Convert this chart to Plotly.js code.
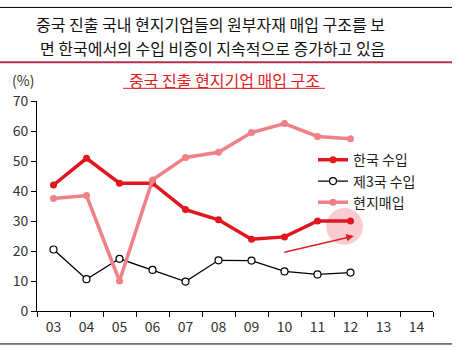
<!DOCTYPE html>
<html><head><meta charset="utf-8">
<script src="https://cdn.plot.ly/plotly-3.0.1.min.js"></script>
<style>html,body{margin:0;padding:0;background:#fff;}#chart{width:461px;height:347px;}</style>
</head><body><div id="chart"></div>
<script>
var categories = ['03','04','05','06','07','08','09','10','11','12','13','14'];
var dataYears = ['03','04','05','06','07','08','09','10','11','12'];
var koreaImport = [42.0, 50.9, 42.6, 42.6, 33.8, 30.4, 23.9, 24.7, 30.0, 30.0];
var thirdImport = [20.5, 10.6, 17.4, 13.7, 9.8, 16.9, 16.8, 13.2, 12.2, 12.8];
var localPurchase = [37.5, 38.5, 10.0, 43.7, 51.2, 52.9, 59.5, 62.5, 58.2, 57.4];
var seriesNames = ['한국 수입', '제3국 수입', '현지매입'];

var FONT = '"Noto Sans CJK KR", "Noto Sans", sans-serif';
var L = 37, R = 28, T = 100.7, B = 36, W = 461, H = 347;
var pw = W - L - R, ph = H - T - B;
function px(x){ return (x - L) / pw; }
function py(y){ return (H - B - y) / ph; }

var traces = [
  {x: dataYears, y: koreaImport, name: seriesNames[0], type: 'scatter', mode: 'lines+markers',
   line: {color: '#e2161e', width: 3.5}, marker: {color: '#e2161e', size: 7}},
  {x: dataYears, y: thirdImport, name: seriesNames[1], type: 'scatter', mode: 'lines+markers',
   line: {color: '#000000', width: 1.3}, marker: {color: '#ffffff', size: 7, line: {color: '#000000', width: 1.2}}},
  {x: dataYears, y: localPurchase, name: seriesNames[2], type: 'scatter', mode: 'lines+markers',
   line: {color: '#f08088', width: 3.5}, marker: {color: '#f08088', size: 7}}
];

var layout = {
  width: W, height: H,
  margin: {l: L, r: R, t: T, b: B, pad: 0},
  paper_bgcolor: '#ffffff', plot_bgcolor: '#ffffff',
  font: {family: FONT, color: '#222', size: 13},
  showlegend: true,
  legend: {x: px(313), y: py(144), xanchor: 'left', yanchor: 'top', bgcolor: 'rgba(0,0,0,0)',
           font: {family: FONT, size: 14, color: '#222'}, tracegroupgap: 0, itemwidth: 30},
  xaxis: {type: 'category', categoryorder: 'array', categoryarray: categories,
          range: [-0.5, 11.5], tickson: 'boundaries', ticks: 'outside', ticklen: 5,
          tickcolor: '#000', showline: true, linecolor: '#000', linewidth: 1, ticklabelstandoff: 3,
          showgrid: false, zeroline: false, tickfont: {family: FONT, size: 14, color: '#333'}, fixedrange: true},
  yaxis: {range: [0, 70], dtick: 10, ticks: 'outside', ticklen: 5, tickcolor: '#000',
          showline: true, linecolor: '#000', linewidth: 1, showgrid: false, zeroline: false,
          tickfont: {family: FONT, size: 14, color: '#333'}, fixedrange: true},
  shapes: [
    {type: 'line', xref: 'paper', yref: 'paper', x0: px(0), x1: px(452), y0: py(7), y1: py(7), line: {color: '#000', width: 1}},
    {type: 'line', xref: 'paper', yref: 'paper', x0: px(0), x1: px(452), y0: py(62), y1: py(62), line: {color: '#b03048', width: 2}},
    {type: 'line', xref: 'paper', yref: 'paper', x0: px(0), x1: px(452), y0: py(344), y1: py(344), line: {color: '#000', width: 1}},
    {type: 'line', xref: 'paper', yref: 'paper', x0: px(123), x1: px(325), y0: py(88), y1: py(88), line: {color: '#e02020', width: 1}},
    {type: 'circle', xref: 'x', yref: 'y', x0: 8.26, x1: 9.38, y0: 22.1, y1: 34.3,
     fillcolor: 'rgba(246,170,178,0.6)', line: {width: 0}, layer: 'below'}
  ],
  annotations: [
    {xref: 'paper', yref: 'paper', x: px(210), y: py(24), xanchor: 'center', yanchor: 'middle', showarrow: false,
     text: '중국 진출 국내 현지기업들의 원부자재 매입 구조를 보', font: {family: FONT, size: 16, color: '#111'}},
    {xref: 'paper', yref: 'paper', x: px(212), y: py(48), xanchor: 'center', yanchor: 'middle', showarrow: false,
     text: '면 한국에서의 수입 비중이 지속적으로 증가하고 있음', font: {family: FONT, size: 16, color: '#111'}},
    {xref: 'paper', yref: 'paper', x: px(224), y: py(80), xanchor: 'center', yanchor: 'middle', showarrow: false,
     text: '중국 진출 현지기업 매입 구조', font: {family: FONT, size: 16, color: '#e02020'}},
    {xref: 'paper', yref: 'paper', x: px(23), y: py(80), xanchor: 'center', yanchor: 'middle', showarrow: false,
     text: '(%)', font: {family: FONT, size: 14, color: '#333'}},
    {xref: 'x', yref: 'y', x: 9.1, y: 25.0, ax: -71, ay: 16.6, showarrow: true, text: '',
     arrowcolor: '#e02020', arrowwidth: 1.5, arrowhead: 2, arrowsize: 1}
  ]
};

Plotly.newPlot('chart', traces, layout, {staticPlot: true, displayModeBar: false});
</script>
</body></html>
